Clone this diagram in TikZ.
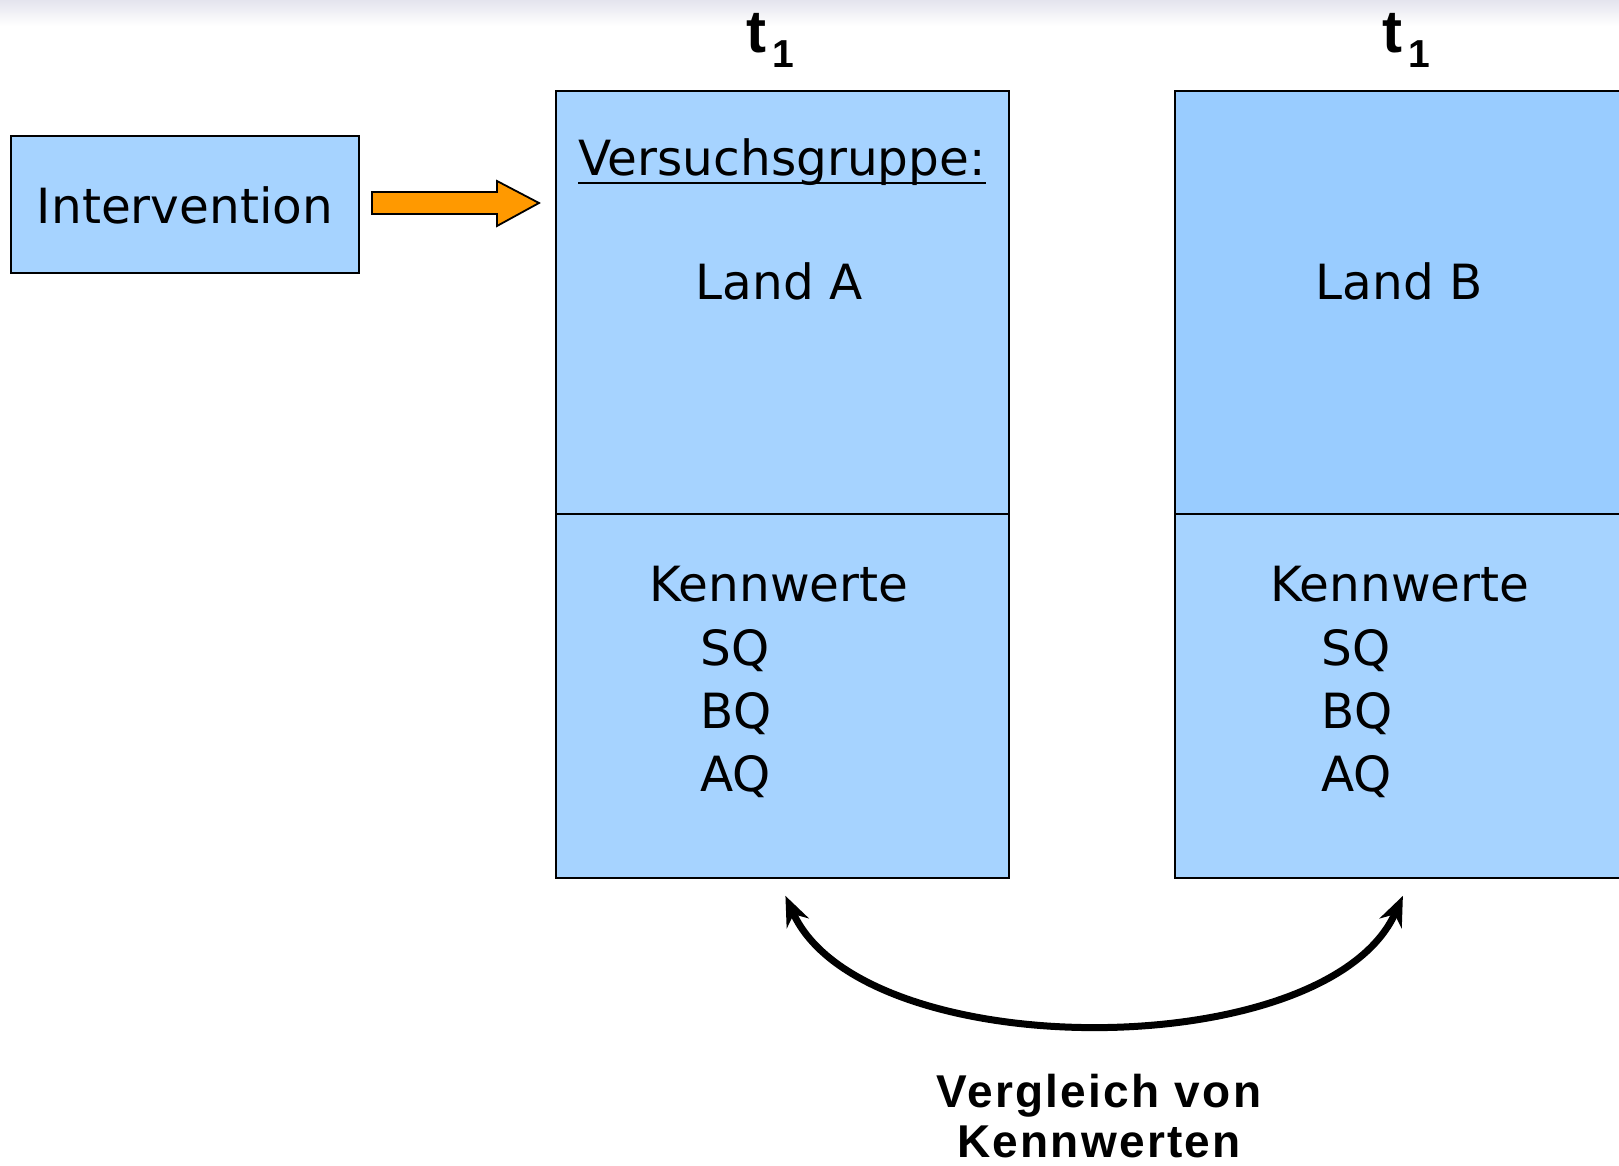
\documentclass[tikz,border=0pt]{standalone}
\usepackage{fontspec}
\setmainfont{DejaVu Sans}
\newfontfamily\lsans{Liberation Sans}
\newfontfamily\lsanswide{Liberation Sans}[LetterSpace=5]
\usetikzlibrary{arrows.meta}
\definecolor{boxlight}{RGB}{166,211,255}
\definecolor{boxdark}{RGB}{153,204,255}
\definecolor{arroworange}{RGB}{255,153,0}
\definecolor{topgray}{RGB}{228,228,238}
\begin{document}
\begin{tikzpicture}[x=1pt,y=-1pt,
  box/.style={draw=black,line width=1.8pt,inner sep=0pt,anchor=north west},
  txt/.style={inner sep=0pt,anchor=base,font=\fontsize{48.5}{58}\selectfont},
  txtl/.style={inner sep=0pt,anchor=base west,font=\fontsize{48.5}{58}\selectfont},
  tlabel/.style={inner sep=0pt,anchor=base,font=\lsans\bfseries\fontsize{60}{64}\selectfont},
  cmp/.style={line width=7pt,{Stealth[length=30pt,width=24pt]}-{Stealth[length=30pt,width=24pt]}}]
\useasboundingbox (0,0) rectangle (1619,1166);
\clip (0,0) rectangle (1619,1166);
\fill[white] (0,0) rectangle (1619,1166);
\shade[top color=topgray,bottom color=white] (0,0) rectangle (1619,26);

% boxes
\node[box,fill=boxlight,minimum width=348pt,minimum height=137pt] (interv) at (10,135) {};
\node[box,fill=boxlight,minimum width=453pt,minimum height=423pt] (atop) at (555,90) {};
\node[box,fill=boxlight,minimum width=453pt,minimum height=364pt] (abot) at (555,513) {};
\node[box,fill=boxdark,minimum width=470pt,minimum height=423pt] (btop) at (1174,90) {};
\node[box,fill=boxlight,minimum width=470pt,minimum height=364pt] (bbot) at (1174,513) {};

% labels t1
\node[tlabel] (t1a) at (770,53) {t\hspace{6pt}\raisebox{-15pt}{\fontsize{39}{44}\selectfont 1}};
\node[tlabel] (t1b) at (1406,53) {t\hspace{6pt}\raisebox{-15pt}{\fontsize{39}{44}\selectfont 1}};

% texts
\node[txt] (intxt) at (185,224) {Intervention};
\node[txt] (vg) at (782,176) {Versuchsgruppe:};
\draw[line width=2.6pt] ([yshift=-7pt]vg.base west) -- ([yshift=-7pt]vg.base east);
\node[txt] (landa) at (779,299) {Land A};
\node[txt] (landb) at (1399,299) {Land B};
\node[txt] (kwa) at (779,601) {Kennwerte};
\node[txtl] (sqa) at (700,665) {SQ};
\node[txtl] (bqa) at (700,728) {BQ};
\node[txtl] (aqa) at (700,791) {AQ};
\node[txt] (kwb) at (1400,601) {Kennwerte};
\node[txtl] (sqb) at (1321,665) {SQ};
\node[txtl] (bqb) at (1321,728) {BQ};
\node[txtl] (aqb) at (1321,791) {AQ};

% orange block arrow
\draw[fill=arroworange,line width=1.8pt,line join=miter]
  (372,192) -- (497,192) -- (497,181) -- (539,203) -- (497,226) -- (497,214) -- (372,214) -- cycle;

% comparison arrow
\coordinate (ca) at ([xshift=3pt,yshift=-17pt]abot.south);
\coordinate (cb) at ([xshift=-7pt,yshift=-17pt]bbot.south);
\draw[cmp] (ca) .. controls (862,1066) and (1327,1066) .. (cb);

\node[inner sep=0pt,font=\lsanswide\bfseries\fontsize{46}{52}\selectfont,anchor=base] (vgl1) at (1099,1107) {Vergleich von};
\node[inner sep=0pt,font=\lsanswide\bfseries\fontsize{46}{52}\selectfont,anchor=base] (vgl2) at (1099,1157) {Kennwerten};
\end{tikzpicture}
\end{document}
